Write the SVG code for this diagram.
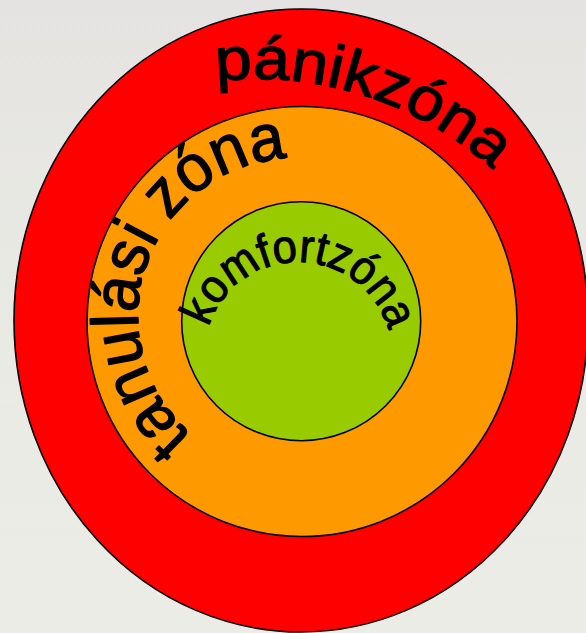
<svg xmlns="http://www.w3.org/2000/svg" width="586" height="633" viewBox="0 0 586 633">
  <defs>
    <linearGradient id="bg" x1="0" y1="0" x2="0" y2="1">
      <stop offset="0" stop-color="#e5e3e1"/>
      <stop offset="0.5" stop-color="#e9eae4"/>
      <stop offset="1" stop-color="#ebece6"/>
    </linearGradient>
    <path id="arcPanik" d="M216.4,81.3 A353,353 0 0 1 492.7,169.3"/>
    <path id="arcTanulasi" d="M192.3,435.2 A158,158 0 0 1 287.7,158.2"/>
    <path id="arcKomfort" d="M208.5,327.3 A94,94 0 0 1 387.4,327.0"/>
  </defs>
  <style>
    .zone { stroke: #000; stroke-width: 1.6; }
    .lbl { font-family: "Liberation Sans", Arial, sans-serif; fill: #000; stroke: #000; stroke-width: 1.4; stroke-linejoin: round; }
  </style>
  <rect x="0" y="0" width="586" height="633" fill="url(#bg)"/>
  <g id="panikzona">
    <ellipse class="zone" cx="301" cy="320.5" rx="287" ry="311.5" fill="#ff0000"/>
    <text class="lbl" font-size="60"><textPath href="#arcPanik" textLength="299" lengthAdjust="spacingAndGlyphs">pánikzóna</textPath></text>
  </g>
  <g id="tanulasizona">
    <circle class="zone" cx="302" cy="321.5" r="215" fill="#ff9900"/>
    <text class="lbl" font-size="66"><textPath href="#arcTanulasi" textLength="374" lengthAdjust="spacingAndGlyphs">tanulási zóna</textPath></text>
  </g>
  <g id="komfortzona">
    <circle class="zone" cx="301.2" cy="321.2" r="119.5" fill="#99cc00"/>
    <text class="lbl" font-size="47" style="stroke-width:1.1"><textPath href="#arcKomfort" textLength="240" lengthAdjust="spacingAndGlyphs">komfortzóna</textPath></text>
  </g>
</svg>
